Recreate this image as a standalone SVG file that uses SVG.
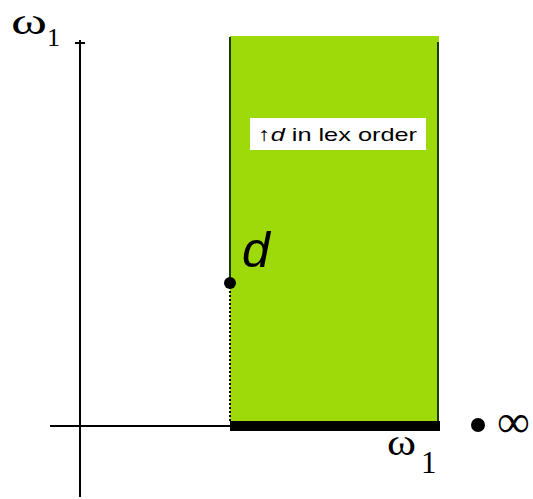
<svg xmlns="http://www.w3.org/2000/svg" width="533" height="499" viewBox="0 0 533 499">
<style>
.serif{font-family:"Liberation Serif","DejaVu Serif",serif;fill:#000}
.axis{stroke:#000;stroke-width:2;fill:none}
.edge{stroke:#1a3a10;stroke-width:2;fill:none}
</style>
<rect width="533" height="499" fill="#fff"/>
<g id="axes">
<line class="axis" x1="80" y1="40" x2="80" y2="497"/>
<line class="axis" x1="75" y1="43" x2="85" y2="43"/>
<line class="axis" x1="50" y1="426" x2="232" y2="426"/>
</g>
<g id="region">
<rect x="230" y="36" width="209" height="386" fill="#9ed90a"/>
<line class="edge" x1="230" y1="37" x2="230" y2="283"/>
<line x1="230" y1="283" x2="230" y2="421" stroke="#000" stroke-width="2" stroke-dasharray="2,2"/>
<line class="edge" x1="438" y1="42" x2="438" y2="421"/>
<rect x="230" y="421" width="210" height="10" fill="#000"/>
<circle cx="230" cy="283" r="6" fill="#000"/>
</g>
<g id="label-box">
<rect x="250" y="118" width="176" height="32" fill="#fff"/>
<text x="258" y="141" font-family="'Liberation Sans','DejaVu Sans',sans-serif" font-size="19" fill="#000" textLength="159" lengthAdjust="spacingAndGlyphs">↑<tspan font-style="italic">d</tspan>  in lex order</text>
</g>
<g id="point-d">
<text x="242" y="267" font-family="'Liberation Sans','DejaVu Sans',sans-serif" font-style="italic" font-size="50" fill="#000">d</text>
</g>
<g id="labels">
<text class="serif" x="11" y="34" font-size="38" textLength="36" lengthAdjust="spacingAndGlyphs">ω</text>
<text class="serif" x="47" y="46" font-size="26">1</text>
<text class="serif" x="387" y="455" font-size="38" textLength="29" lengthAdjust="spacingAndGlyphs">ω</text>
<text class="serif" x="421" y="473" font-size="31">1</text>
<circle cx="478" cy="425" r="7" fill="#000"/>
<text class="serif" x="497" y="437" font-size="46">∞</text>
</g>
</svg>
